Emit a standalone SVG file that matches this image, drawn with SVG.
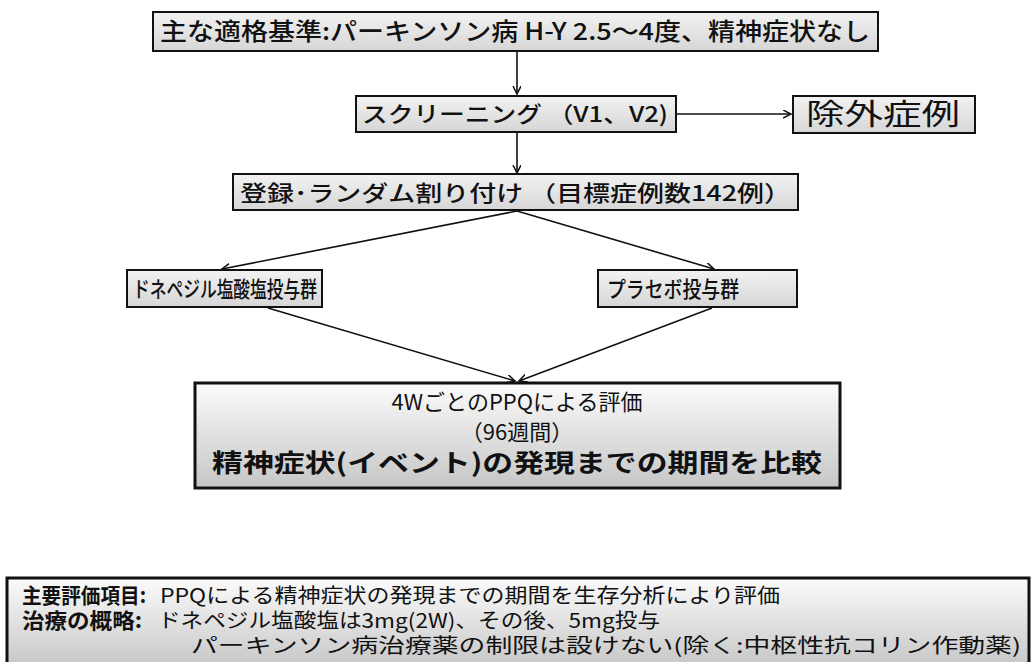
<svg xmlns="http://www.w3.org/2000/svg" width="1033" height="662" viewBox="0 0 1033 662">
<style>
.box{stroke:#111;stroke-width:2;fill:url(#g1)}
.big{stroke:#111;stroke-width:3;fill:url(#g2)}
.t{font-family:"Noto Sans CJK JP","Noto Sans",sans-serif;fill:#111;font-weight:500}
.r{font-weight:400}
.b{font-weight:700}
.c{stroke:#111;stroke-width:1.6;fill:none}
</style>
<defs>
<linearGradient id="g1" x1="0" y1="0" x2="0" y2="1"><stop offset="0" stop-color="#f2f2f2"/><stop offset="1" stop-color="#d6d6d6"/></linearGradient>
<linearGradient id="g2" x1="0" y1="0" x2="0" y2="1"><stop offset="0" stop-color="#fbfbfb"/><stop offset="1" stop-color="#c6c6c6"/></linearGradient>
<marker id="a" markerWidth="10" markerHeight="10" refX="8" refY="4" orient="auto" markerUnits="userSpaceOnUse"><path d="M0,0 L8,4 L0,8" fill="none" stroke="#111" stroke-width="1.5"/></marker>
</defs>
<rect width="1033" height="662" fill="#fff"/>
<g id="connectors">
<line class="c" x1="517" y1="52" x2="517" y2="94" marker-end="url(#a)"/>
<line class="c" x1="677" y1="114" x2="791" y2="114" marker-end="url(#a)"/>
<line class="c" x1="517" y1="133" x2="517" y2="173" marker-end="url(#a)"/>
<line class="c" x1="517" y1="211" x2="222" y2="269" marker-end="url(#a)"/>
<line class="c" x1="517" y1="211" x2="714" y2="269" marker-end="url(#a)"/>
<line class="c" x1="268" y1="308" x2="515" y2="381" marker-end="url(#a)"/>
<line class="c" x1="712" y1="308" x2="519" y2="381" marker-end="url(#a)"/>
</g>
<g id="n1"><rect class="box" x="153" y="12" width="725" height="39"/>
<text class="t" x="160" y="40" font-size="24" textLength="710" lengthAdjust="spacingAndGlyphs">主な適格基準:パーキンソン病 H-Y 2.5～4度、精神症状なし</text></g>
<g id="n2"><rect class="box" x="356" y="96" width="320" height="36"/>
<text class="t" x="362" y="122" font-size="22" textLength="306" lengthAdjust="spacingAndGlyphs">スクリーニング （V1、V2)</text></g>
<g id="n3"><rect class="box" x="793" y="96" width="182" height="37"/>
<text class="t r" x="806" y="125" font-size="29" textLength="154" lengthAdjust="spacingAndGlyphs">除外症例</text></g>
<g id="n4"><rect class="box" x="233" y="174" width="565" height="36"/>
<text class="t" x="240" y="201" font-size="22" textLength="551" lengthAdjust="spacingAndGlyphs">登録･ランダム割り付け （目標症例数142例）</text></g>
<g id="n5"><rect class="box" x="127" y="270" width="195" height="37"/>
<text class="t" x="133" y="297" font-size="22" textLength="184" lengthAdjust="spacingAndGlyphs">ドネペジル塩酸塩投与群</text></g>
<g id="n6"><rect class="box" x="598" y="270" width="199" height="37"/>
<text class="t" x="607" y="297" font-size="22" textLength="132" lengthAdjust="spacingAndGlyphs">プラセボ投与群</text></g>
<g id="n7"><rect class="big" x="195" y="383" width="645" height="105"/>
<text class="t r" x="517" y="410" font-size="22" text-anchor="middle">4WごとのPPQによる評価</text>
<text class="t r" x="517" y="440" font-size="22" text-anchor="middle">（96週間）</text>
<text class="t b" x="517" y="472" font-size="25" text-anchor="middle" textLength="610" lengthAdjust="spacingAndGlyphs">精神症状(イベント)の発現までの期間を比較</text></g>
<g id="n8"><rect class="big" x="7" y="578" width="1022" height="90"/>
<text class="t b" x="22" y="603" font-size="21" textLength="124" lengthAdjust="spacingAndGlyphs">主要評価項目:</text>
<text class="t r" x="160" y="603" font-size="20" textLength="620" lengthAdjust="spacingAndGlyphs">PPQによる精神症状の発現までの期間を生存分析により評価</text>
<text class="t b" x="22" y="628" font-size="21" textLength="120" lengthAdjust="spacingAndGlyphs">治療の概略:</text>
<text class="t r" x="158" y="628" font-size="20" textLength="502" lengthAdjust="spacingAndGlyphs">ドネペジル塩酸塩は3mg(2W)、その後、5mg投与</text>
<text class="t r" x="191" y="653" font-size="20" textLength="830" lengthAdjust="spacingAndGlyphs">パーキンソン病治療薬の制限は設けない(除く:中枢性抗コリン作動薬)</text></g>
</svg>
